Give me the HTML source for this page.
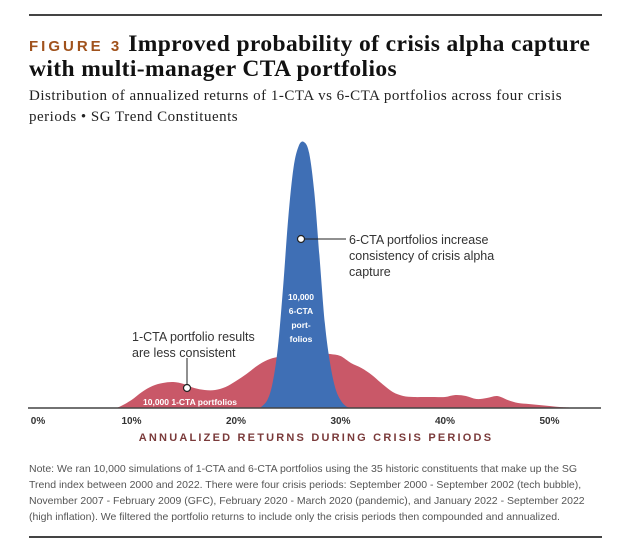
<!DOCTYPE html>
<html><head><meta charset="utf-8"><style>
html,body{margin:0;padding:0;background:#fff;}
body{width:638px;height:554px;position:relative;overflow:hidden;font-family:"Liberation Sans",sans-serif;}
.rule{position:absolute;left:29px;width:573px;height:2px;background:#444;}
.title{position:absolute;left:29px;top:33px;font-family:"Liberation Serif",serif;font-weight:bold;font-size:23.5px;line-height:23px;color:#111;width:600px;white-space:nowrap;letter-spacing:0.4px;}
.fig{font-family:"Liberation Sans",sans-serif;color:#a0521c;font-size:15px;letter-spacing:3px;margin-right:6px;}
.sub{position:absolute;left:29px;top:86px;font-family:"Liberation Serif",serif;font-size:15px;line-height:21px;color:#222;width:600px;white-space:nowrap;letter-spacing:0.5px;}
.note{position:absolute;left:29px;top:461px;font-size:10.5px;line-height:16px;color:#555;width:600px;white-space:nowrap;}
</style></head><body>
<div class="rule" style="top:14px"></div>
<div class="title"><span class="fig">FIGURE 3</span>Improved probability of crisis alpha capture<br>with multi-manager CTA portfolios</div>
<div class="sub">Distribution of annualized returns of 1-CTA vs 6-CTA portfolios across four crisis<br>periods • SG Trend Constituents</div>
<svg id="chart" width="638" height="554" style="position:absolute;left:0;top:0"></svg>
<div class="note">Note: We ran 10,000 simulations of 1-CTA and 6-CTA portfolios using the 35 historic constituents that make up the SG<br>Trend index between 2000 and 2022. There were four crisis periods: September 2000 - September 2002 (tech bubble),<br>November 2007 - February 2009 (GFC), February 2020 - March 2020 (pandemic), and January 2022 - September 2022<br>(high inflation). We filtered the portfolio returns to include only the crisis periods then compounded and annualized.</div>
<div class="rule" style="top:536px"></div>
<script>
const redX=[8.5,9,10,11,12,13,14,15,16,17,18,19,20,21,22,23,24,25,26,27,28,29,30,31,32,33,34,35,36,37,38,39,40,41,42,43,44,45,46,47,48,49,50,51,53];
const redY=[0,2,8,16,22,25,26,24,20,18,18,21,27,34,42,48,51,52,55,57,55,54,52,45,40,33,24,16,12,11,11,11,11,13,12,9,10,12,8,5,4,3,2,1,0];
const blueX=[22.3,23,23.5,24,24.5,25,25.5,26,26.5,27,27.5,28,28.5,29,29.5,30,30.5,31];
const blueY=[0,8,25,60,120,190,240,262,266,255,215,150,85,45,20,8,2,0];
const tickVals=[0,10,20,30,40,50];
const tickLabels=["0%","10%","20%","30%","40%","50%"];
const svg=document.getElementById('chart');const NS="http://www.w3.org/2000/svg";
const base=408;
function sx(v){return 27+v*10.45;}
function sy(v){return base-v;}
function mk(t,a,txt){const e=document.createElementNS(NS,t);for(const k in a)e.setAttribute(k,a[k]);if(txt!=null)e.textContent=txt;svg.appendChild(e);return e;}
function area(xs,ys){let d="M"+sx(xs[0])+","+base;
 const pts=xs.map((x,i)=>[sx(x),sy(ys[i])]);
 d+=" L"+pts[0][0]+","+pts[0][1];
 for(let i=1;i<pts.length;i++){const p0=pts[i-2]||pts[i-1],p1=pts[i-1],p2=pts[i],p3=pts[i+1]||p2;
  d+=` C${p1[0]+(p2[0]-p0[0])/6},${p1[1]+(p2[1]-p0[1])/6} ${p2[0]-(p3[0]-p1[0])/6},${p2[1]-(p3[1]-p1[1])/6} ${p2[0]},${p2[1]}`;}
 d+=" L"+sx(xs[xs.length-1])+","+base+" Z";return d;}
let e;
e=mk('path',{d:area(redX,redY),fill:'#c95868'});


e=mk('path',{d:area(blueX,blueY),fill:'#3f6fb5'});


e=mk('line',{x1:28,x2:601,y1:base,y2:base,stroke:'#444','stroke-width':1.5});


tickVals.forEach((v,i)=>{const x=i===0?38:sx(v);
 e=mk('text',{x:x,y:424,'text-anchor':'middle','font-size':10,'font-weight':'bold',fill:'#333'},tickLabels[i]);
 
 });
e=mk('text',{x:316,y:441,'text-anchor':'middle','font-size':11,'font-weight':'bold',fill:'#7a3a3a','letter-spacing':'2.2'},'ANNUALIZED RETURNS DURING CRISIS PERIODS');


mk('line',{x1:301,x2:346,y1:239,y2:239,stroke:'#222','stroke-width':1});
e=mk('circle',{cx:301,cy:239,r:3.5,fill:'#fff',stroke:'#222','stroke-width':1.2});


["6-CTA portfolios increase","consistency of crisis alpha","capture"].forEach((t,i)=>{
 e=mk('text',{x:349,y:244+i*16,'font-size':12.5,fill:'#333'},t);
 
 });
mk('line',{x1:187,x2:187,y1:358,y2:385,stroke:'#222','stroke-width':1});
e=mk('circle',{cx:187,cy:388,r:3.5,fill:'#fff',stroke:'#222','stroke-width':1.2});


["1-CTA portfolio results","are less consistent"].forEach((t,i)=>{
 e=mk('text',{x:132,y:341+i*16,'font-size':12.5,fill:'#333'},t);
 
 });
e=mk('text',{x:143,y:405,'font-size':8.5,'font-weight':'bold',fill:'#fff'},'10,000 1-CTA portfolios');


["10,000","6-CTA","port-","folios"].forEach((t,i)=>{
 e=mk('text',{x:301,y:300+i*14,'text-anchor':'middle','font-size':8.5,'font-weight':'bold',fill:'#fff'},t);
 
 });
</script>
</body></html>
